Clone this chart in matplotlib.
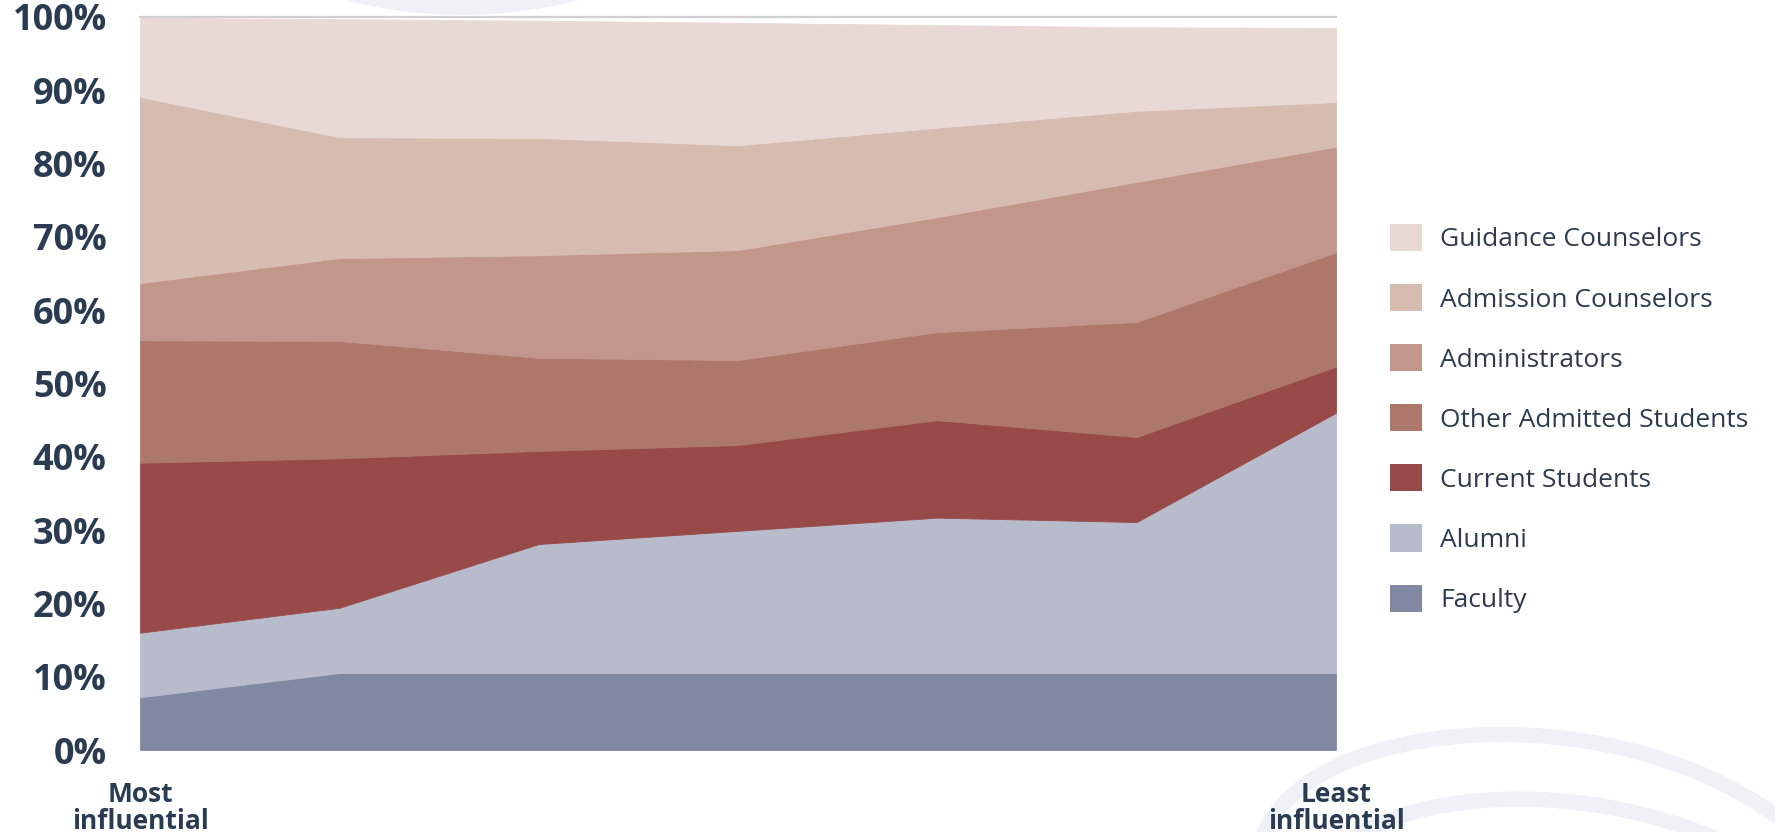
import numpy as np
import matplotlib
matplotlib.use("Agg")
import matplotlib.pyplot as plt
from matplotlib.patches import Patch, Circle, PathPatch
from matplotlib.path import Path

# rank position 1 = most influential, 7 = least influential
ranks = [1, 2, 3, 4, 5, 6, 7]

# share of respondents (%) per rank, stacked bottom -> top
faculty = [7.2, 10.5, 10.5, 10.5, 10.5, 10.5, 10.5]
alumni = [8.8, 8.9, 17.6, 19.4, 21.2, 20.6, 35.5]
current_students = [23.2, 20.4, 12.7, 11.7, 13.3, 11.6, 6.3]
other_admitted = [16.7, 16.0, 12.7, 11.6, 12.0, 15.7, 15.6]
administrators = [7.8, 11.3, 14.0, 15.0, 15.7, 19.1, 14.4]
admission_counselors = [25.4, 16.5, 16.0, 14.3, 12.2, 9.7, 6.1]
guidance_counselors = [10.8, 16.1, 16.0, 16.7, 14.0, 11.4, 10.1]

series_names = ["Faculty", "Alumni", "Current Students", "Other Admitted Students",
                "Administrators", "Admission Counselors", "Guidance Counselors"]
series_colors = ["#8189a2", "#b8bbcc", "#974a47", "#ad786a",
                 "#c3968c", "#d6bbb0", "#e9d9d6"]

y_ticks = list(range(0, 101, 10))
x_tick_labels = ["Most\ninfluential", "Least\ninfluential"]

text_color = "#2b3c52"
plt.rcParams["font.family"] = ["Open Sans", "DejaVu Sans"]

W, H = 1775, 832
fig = plt.figure(figsize=(W / 100, H / 100), dpi=100)

# faint decorative shapes behind the chart (pixel coordinates)
bg = fig.add_axes([0, 0, 1, 1], zorder=0)
bg.set_xlim(0, W)
bg.set_ylim(H, 0)
bg.axis("off")
swoosh_color = "#eef1f6"
bg.add_patch(Circle((462, -449), 464, color=swoosh_color, lw=0))
for pts in [[(1262, 840), (1300, 720), (1600, 690), (1775, 815)],
            [(1318, 880), (1350, 785), (1620, 760), (1790, 880)]]:
    path = Path(pts, [Path.MOVETO, Path.CURVE4, Path.CURVE4, Path.CURVE4])
    bg.add_patch(PathPatch(path, fc="none", ec=swoosh_color, lw=11, capstyle="round"))

ax = fig.add_axes([140 / W, 1 - 750 / H, 1196 / W, 733 / H], zorder=1)
ax.patch.set_alpha(0)

series = [faculty, alumni, current_students, other_admitted,
          administrators, admission_counselors, guidance_counselors]
polys = ax.stackplot(ranks, series, colors=series_colors, labels=series_names, linewidth=0)
for poly, c in zip(polys, series_colors):
    poly.set_edgecolor(c)
    poly.set_linewidth(0.6)

ax.axhline(100, color="#d0d0d0", lw=1.6, clip_on=False, zorder=0)

ax.set_xlim(1, 7)
ax.set_ylim(0, 100)
for s in ax.spines.values():
    s.set_visible(False)

ax.set_yticks(y_ticks)
ax.set_yticklabels([f"{v}%" for v in y_ticks], fontsize=26, fontweight="bold", color=text_color)
ax.tick_params(axis="y", length=0, pad=24)

ax.set_xticks([1, 7])
ax.set_xticklabels(x_tick_labels, fontsize=19, fontweight="bold", color=text_color,
                   linespacing=1.0)
ax.tick_params(axis="x", length=0, pad=22)

handles = [Patch(facecolor=c, edgecolor="none", label=n)
           for n, c in zip(series_names, series_colors)][::-1]
ax.legend(handles=handles, loc="upper left", bbox_to_anchor=(1390 / W, 1 - 224 / H),
          bbox_transform=fig.transFigure, frameon=False, fontsize=19,
          labelcolor="#2e3b4e", handlelength=1.2, handleheight=1.2,
          labelspacing=1.2, handletextpad=0.7, borderpad=0, borderaxespad=0)

fig.savefig("out.png", dpi=100, facecolor="white")
